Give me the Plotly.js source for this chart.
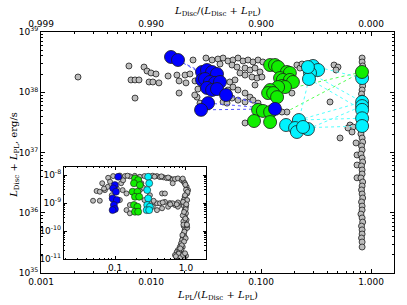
<!DOCTYPE html>
<html><head><meta charset="utf-8">
<script src="https://cdn.plot.ly/plotly-3.0.1.min.js"></script>
<style>html,body{margin:0;padding:0;background:#fff}#c{width:407px;height:305px}</style>
</head><body><div id="c"></div>
<script>
// ---------- main panel data (x = L_PL/(L_Disc+L_PL), y = L_Disc+L_PL in erg/s) ----------
const mainGrayX = [0.00217,0.0063,0.00864,0.0092,0.00658,0.00716,0.00778,0.0096,0.00716,0.0100,0.0111,0.0104,0.0118,0.0143,0.0172,0.0204,0.0226,0.0180,0.0208,0.0180,0.0241,0.0316,0.0359,0.0406,0.0452,0.0501,0.0424,0.0251,0.0262,0.0279,0.0267,0.0452,0.0491,0.0471,0.0556,0.0618,0.0686,0.0762,0.0846,0.094,0.104,0.0545,0.0605,0.0716,0.0794,0.0882,0.098,0.0644,0.0716,0.0828,0.092,0.102,0.0580,0.0882,0.0556,0.0618,0.0716,0.0794,0.0545,0.0618,0.0716,0.0846,0.094,0.191,0.212,0.226,0.236,0.172,0.155,0.0716,0.424,0.523,0.461,0.501,0.481,0.644,0.686,0.618,0.672,0.746,0.746,0.746,0.731,0.052,0.050,0.025];
const mainGrayY = [1.79e38,2.73e38,2.62e38,2.25e38,1.60e38,1.60e38,1.60e38,1.48e38,8.0e37,2.09e38,2.01e38,1.48e38,1.43e38,1.86e38,1.93e38,1.93e38,2.01e38,1.54e38,1.43e38,9.7e37,3.43e38,3.70e38,3.43e38,3.56e38,3.70e38,3.30e38,2.94e38,1.54e38,8.3e37,6.6e37,1.13e38,6.9e37,6.6e37,9.7e37,3.43e38,3.70e38,3.30e38,3.43e38,3.18e38,3.43e38,3.18e38,2.83e38,2.62e38,2.52e38,2.34e38,2.52e38,2.17e38,2.09e38,1.93e38,1.79e38,1.72e38,1.79e38,1.60e38,1.32e38,1.22e38,1.09e38,9.7e37,8.3e37,8.0e37,7.4e37,6.9e37,7.4e37,6.6e37,9.7e37,2.83e38,2.52e38,2.94e38,4.7e37,4.7e37,3.09e37,6.9e37,1.74e37,2.83e38,2.62e38,2.34e38,2.86e37,2.65e37,2.55e37,2.19e37,9.1e36,6.2e36,3.8e36,1.44e37,1.48e38,1.09e38,9.0e37];
const colX = [0.83,0.83,0.84,0.83,0.82,0.83,0.84,0.83,0.82,0.83,0.83,0.84,0.82,0.81,0.83,0.84,0.82,0.83,0.81,0.83,0.84,0.82,0.83,0.83,0.81,0.84,0.83,0.82,0.83,0.84,0.82,0.83,0.83,0.81,0.83,0.84,0.82,0.83,0.83,0.82,0.83,0.83];
const colY = [3.70e38,3.18e38,2.73e38,2.34e38,2.01e38,1.48e38,1.27e38,1.09e38,9.35e37,8.0e37,4.36e37,3.21e37,2.36e37,2.03e37,1.74e37,1.49e37,1.28e37,1.10e37,9.4e36,8.1e36,6.95e36,5.97e36,5.13e36,4.40e36,3.78e36,3.24e36,2.78e36,2.39e36,2.05e36,1.76e36,1.51e36,1.29e36,1.11e36,9.5e35,8.2e35,7.0e35,6.0e35,5.2e35,4.44e35,3.81e35,3.27e35,2.70e35];
const blueX = [0.0152,0.0176,0.0291,0.0323,0.0359,0.0398,0.0291,0.0310,0.0344,0.0382,0.0424,0.0323,0.0359,0.0398,0.0481,0.0330,0.0285,0.134];
const blueY = [3.85e38,3.43e38,2.17e38,2.34e38,2.17e38,2.01e38,1.60e38,1.66e38,1.48e38,1.43e38,1.48e38,1.18e38,1.09e38,1.13e38,9.0e37,6.6e37,5.1e37,5.3e37];
const greenX = [0.121,0.134,0.143,0.172,0.183,0.149,0.158,0.183,0.195,0.155,0.165,0.143,0.121,0.116,0.129,0.140,0.094,0.104,0.121,0.0864,0.121,0.828];
const greenY = [2.83e38,2.83e38,2.62e38,2.17e38,2.09e38,1.72e38,1.60e38,1.60e38,1.48e38,1.27e38,1.22e38,1.22e38,1.09e38,9.7e37,9.7e37,8.3e37,5.1e37,4.9e37,4.7e37,3.33e37,3.2e37,2.17e38];
const cyanX = [0.297,0.330,0.279,0.273,0.267,0.221,0.169,0.204,0.267,0.212,0.241,0.83,0.83,0.83,0.83,0.83,0.83];
const cyanY = [2.73e38,2.34e38,2.09e38,1.66e38,2.62e38,3.46e37,2.86e37,2.55e37,2.45e37,2.19e37,2.65e37,1.72e38,6.9e37,5.9e37,5.1e37,3.7e37,2.75e37];
// dotted tracks (segments separated by null)
const blueLinkX = [0.0152,0.0291,null,0.0176,0.0291,null,0.0481,0.134,null,0.0424,0.134,null,0.0330,0.134,null,0.0285,0.134];
const blueLinkY = [3.85e38,2.17e38,null,3.43e38,2.01e38,null,9.0e37,5.3e37,null,1.0e38,5.3e37,null,6.6e37,5.3e37,null,5.1e37,5.3e37];
const greenLinkX = [0.828,0.191,null,0.828,0.176];
const greenLinkY = [2.17e38,1.18e38,null,2.17e38,4.9e37];
const cyanLinkX = [0.297,0.83,null,0.279,0.83,null,0.273,0.83,null,0.273,0.221,null,0.221,0.83,null,0.221,0.83,null,0.204,0.83,null,0.267,0.83];
const cyanLinkY = [2.73e38,1.72e38,null,2.09e38,6.9e37,null,1.66e38,5.1e37,null,1.66e38,3.46e37,null,3.46e37,6.9e37,null,3.46e37,3.7e37,null,2.55e37,2.75e37,null,2.45e37,5.9e37];

// ---------- inset data ----------
const insetGrayX = [0.094,0.117,0.138,0.162,0.224,0.26,0.31,0.389,0.429,0.48,0.53,0.593,0.653,0.08,0.15,0.19,0.34,0.36,0.45,0.56,0.70,
  0.049,0.061,0.055,0.061,0.072,0.066,0.079,0.085,0.117,0.128,0.122,0.145,0.162,0.145,0.162,0.106,0.09,0.224,0.26,0.31,0.235,0.46,0.505,0.65,0.07,0.13,0.25,
  0.39,0.43,0.505,0.593,0.70,0.77,0.34,0.39,0.46,0.56,0.65,0.77,0.31,0.35,0.47,0.60,0.74,
  0.77,0.87,0.93,0.96,1.02,1.07,1.04,0.96,0.93,0.90,0.93,0.96,1.0,0.96,1.02,0.96,0.93,0.96,0.93,0.90,0.88,0.85,0.82,0.77,0.74,0.70,0.77,0.88,1.0,0.82,1.04,1.0,0.90,1.04,0.9,1.0,0.98,0.9,0.99,0.92,0.95,0.86,0.80,0.93,
  1.05,0.97,0.91,1.01,0.94,0.98,0.92,1.03,0.95,0.89,0.99,0.94,0.87,0.83,0.79,0.72,0.84,0.91,0.97,1.03];
const insetGrayY = [9.2e-9,9.6e-9,9.2e-9,9.0e-9,8.7e-9,9.2e-9,9.0e-9,9.2e-9,8.5e-9,8.3e-9,7.8e-9,7.6e-9,7.0e-9,8.0e-9,9.5e-9,9.4e-9,9.5e-9,8.8e-9,9.0e-9,8.2e-9,7.2e-9,
  1.21e-9,1.21e-9,2.7e-9,2.54e-9,2.9e-9,5.1e-9,3.8e-9,5.8e-9,1.28e-9,2.9e-9,5.1e-9,2.2e-9,8.5e-10,5.6e-10,4.3e-10,3.35e-9,1.9e-9,2.9e-9,1.28e-9,1.9e-9,5.1e-9,2.2e-9,2.2e-9,5.1e-9,3.3e-9,6.5e-9,3.5e-9,
  9.8e-10,9.8e-10,1.1e-9,1.0e-9,8.5e-10,7.4e-10,7.4e-10,5.6e-10,6.5e-10,7.4e-10,9.8e-10,1.05e-9,1.0e-9,1.2e-9,1.05e-9,9.0e-10,9.0e-10,
  7.6e-9,6.6e-9,5.8e-9,5.1e-9,3.8e-9,2.9e-9,2.2e-9,1.68e-9,1.28e-9,9.8e-10,8e-10,5.6e-10,4.3e-10,3.2e-10,2.5e-10,1.88e-10,1.5e-10,1.09e-10,8.3e-11,6.3e-11,4.8e-11,3.6e-11,2.75e-11,2.1e-11,1.78e-11,1.39e-11,1.2e-11,1.2e-11,1.3e-11,1.5e-11,1.28e-9,7.4e-10,3.6e-10,1.3e-10,2.7e-11,3.0e-9,4.5e-9,7.5e-9,6e-10,2.2e-10,6.5e-11,2.2e-11,1.8e-11,1.1e-11,
  2.5e-9,1.9e-9,1.1e-9,9.0e-10,4.8e-10,2.8e-10,1.7e-10,1.6e-10,9.5e-11,7.2e-11,5.5e-11,4.2e-11,3.1e-11,2.4e-11,1.55e-11,1.25e-11,1.15e-11,1.4e-11,1.6e-11,1.7e-10];
const insetBlueX = [0.111,0.0996,0.0942,0.103,0.0925,0.106,0.0964,0.0996,0.0925];
const insetBlueY = [8.7e-9,4.4e-9,3.35e-9,2.54e-9,1.47e-9,1.28e-9,8.5e-10,6.1e-10,5.6e-10];
const insetGreenX = [0.191,0.212,0.185,0.224,0.177,0.207,0.191,0.219,0.185,0.207,0.191,0.212];
const insetGreenY = [7.6e-9,6.6e-9,5.1e-9,4.4e-9,2.54e-9,2.54e-9,1.68e-9,1.68e-9,8.5e-10,7.4e-10,4.9e-10,4.9e-10];
const insetCyanX = [0.293,0.303,0.284,0.293,0.284,0.310,0.279,0.303];
const insetCyanY = [8.7e-9,5.1e-9,2.91e-9,1.47e-9,8.5e-10,7.4e-10,5.6e-10,5.6e-10];
const insetLines = [0.1, 0.2, 0.3];

// ---------- tick labels ----------
const xTickVals = [0.001, 0.01, 0.1, 1];
const xTickText = ['0.001', '0.010', '0.100', '1.000'];
const x2TickText = ['0.999', '0.990', '0.900', '0.000'];
const yTickVals = [1e35, 1e36, 1e37, 1e38, 1e39];
const yTickText = ['10<sup>35</sup>','10<sup>36</sup>','10<sup>37</sup>','10<sup>38</sup>','10<sup>39</sup>'];
const ixTickVals = [0.1, 1];
const ixTickText = ['0.1', '1.0'];
const iyTickVals = [1e-11, 1e-10, 1e-9, 1e-8];
const iyTickText = ['10<sup>-11</sup>','10<sup>-10</sup>','10<sup>-9</sup>','10<sup>-8</sup>'];

const COL = {blue:'#0000ff', green:'#11ee00', cyan:'#00f2ff', gray:'#bdbdbd', edge:'#1a1a1a'};

function minorVals(lo, hi){ const v=[]; for(let e=lo;e<hi;e++){ for(let k=2;k<=9;k++) v.push(k*Math.pow(10,e)); } return v; }

const sc = (x,y,col,size,xa,ya,lw) => ({type:'scatter',mode:'markers',x:x,y:y,xaxis:xa,yaxis:ya,hoverinfo:'skip',
  marker:{color:col,size:size,line:{color:COL.edge,width:lw}}});
const ln = (x,y,col) => ({type:'scatter',mode:'lines',x:x,y:y,xaxis:'x',yaxis:'y',hoverinfo:'skip',connectgaps:false,
  line:{color:col,width:1,dash:'dot'}});

const traces = [
  sc(mainGrayX, mainGrayY, COL.gray, 6, 'x','y',0.8),
  sc(colX, colY, COL.gray, 6, 'x','y',0.8),
  ln(blueLinkX, blueLinkY, '#5555ff'),
  ln(greenLinkX, greenLinkY, '#55ff55'),
  ln(cyanLinkX, cyanLinkY, '#55ffff'),
  sc(cyanX, cyanY, COL.cyan, 13, 'x','y',0.8),
  sc(greenX, greenY, COL.green, 13, 'x','y',0.8),
  sc(blueX, blueY, COL.blue, 13, 'x','y',0.8),
  {type:'scatter',mode:'markers',x:xTickVals,y:[null,null,null,null],xaxis:'x2',yaxis:'y',hoverinfo:'skip',showlegend:false},
  sc(insetGrayX, insetGrayY, COL.gray, 5, 'x3','y3',0.75),
  sc(insetCyanX, insetCyanY, COL.cyan, 7, 'x3','y3',0.6),
  sc(insetGreenX, insetGreenY, COL.green, 7, 'x3','y3',0.6),
  sc(insetBlueX, insetBlueY, COL.blue, 7, 'x3','y3',0.6)
];

const tickFont = {family:'DejaVu Sans', size:9, color:'#000'};
const axBase = {type:'log', showgrid:false, zeroline:false, showline:true, linecolor:'#000', linewidth:1,
  ticks:'inside', ticklen:4, tickcolor:'#000', tickfont:tickFont, tickmode:'array'};

const lineColors = [COL.blue, '#00ee00', '#00ffff'];
const shapes = insetLines.map((v,i)=>({type:'line', xref:'x3', yref:'y3 domain', x0:v, x1:v, y0:0, y1:1,
  line:{color:lineColors[i], width:1.6}, layer:'below'}));

const mathFont = {family:'DejaVu Serif', size:10, color:'#000'};
const layout = {
  width:407, height:305, showlegend:false,
  paper_bgcolor:'#fff', plot_bgcolor:'#fff',
  margin:{l:41, r:13, t:32, b:32, pad:0},
  xaxis: Object.assign({}, axBase, {range:[-3, 0.209], domain:[0,1], anchor:'y',
    tickvals:xTickVals, ticktext:xTickText, mirror:false,
    minor:{tickmode:'array', tickvals:minorVals(-3,1), ticks:'inside', ticklen:2, tickcolor:'#000', showgrid:false}}),
  xaxis2: Object.assign({}, axBase, {range:[-3, 0.209], overlaying:'x', side:'top', anchor:'y',
    tickvals:xTickVals, ticktext:x2TickText,
    minor:{tickmode:'array', tickvals:minorVals(-3,1), ticks:'inside', ticklen:2, tickcolor:'#000', showgrid:false}}),
  yaxis: Object.assign({}, axBase, {range:[35, 39], domain:[0,1], anchor:'x', mirror:'ticks',
    tickvals:yTickVals, ticktext:yTickText,
    minor:{tickmode:'array', tickvals:minorVals(35,39), ticks:'inside', ticklen:2, tickcolor:'#000', showgrid:false}}),
  xaxis3: Object.assign({}, axBase, {range:[-1.72, 0.28], domain:[0.065, 0.467], anchor:'y3', mirror:'ticks',
    tickvals:ixTickVals, ticktext:ixTickText, ticklen:3,
    minor:{tickmode:'array', tickvals:minorVals(-2,1), ticks:'inside', ticklen:1.5, tickcolor:'#000', showgrid:false}}),
  yaxis3: Object.assign({}, axBase, {range:[-11, -7.71], domain:[0.058, 0.44], anchor:'x3', mirror:'ticks',
    tickvals:iyTickVals, ticktext:iyTickText, ticklen:3,
    minor:{tickmode:'array', tickvals:minorVals(-11,-7), ticks:'inside', ticklen:1.5, tickcolor:'#000', showgrid:false}}),
  shapes: shapes,
  annotations:[
    {xref:'paper', yref:'paper', x:0.5, y:1.083, xanchor:'center', yanchor:'middle', showarrow:false, font:mathFont,
     text:'<i>L</i><sub>Disc</sub>/(<i>L</i><sub>Disc</sub> + <i>L</i><sub>PL</sub>)'},
    {xref:'paper', yref:'paper', x:0.5, y:-0.095, xanchor:'center', yanchor:'middle', showarrow:false, font:mathFont,
     text:'<i>L</i><sub>PL</sub>/(<i>L</i><sub>Disc</sub> + <i>L</i><sub>PL</sub>)'},
    {xref:'paper', yref:'paper', x:-0.074, y:0.49, xanchor:'center', yanchor:'middle', showarrow:false, font:mathFont, textangle:-90,
     text:'<i>L</i><sub>Disc</sub> + <i>L</i><sub>PL</sub>, erg/s'}
  ]
};

Plotly.newPlot('c', traces, layout, {staticPlot:true, displayModeBar:false});
</script>
</body></html>
